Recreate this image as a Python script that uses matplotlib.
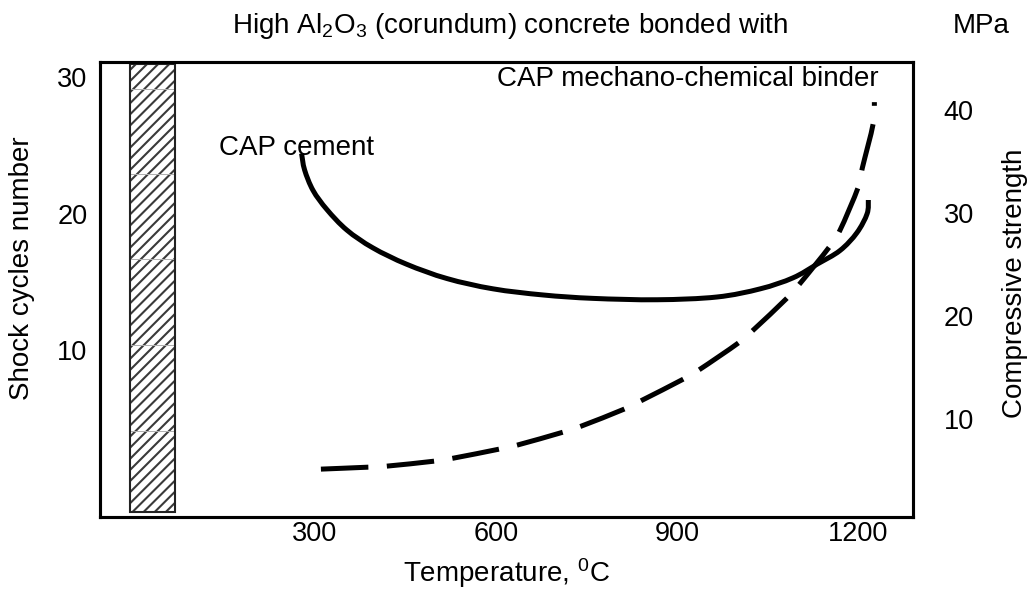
import matplotlib
matplotlib.use("Agg")
import matplotlib.pyplot as plt
from matplotlib.path import Path
from matplotlib.patches import PathPatch

plt.rcParams['font.family'] = ['Liberation Sans', 'DejaVu Sans']
plt.rcParams['mathtext.fontset'] = 'custom'
plt.rcParams['mathtext.rm'] = 'Liberation Sans'
plt.rcParams['mathtext.it'] = 'Liberation Sans'
plt.rcParams['hatch.linewidth'] = 1.5

# ---- data ----
x_ticks = [300, 600, 900, 1200]
left_ticks = [10, 20, 30]
right_ticks = [10, 20, 30, 40]

cement_temp = [278, 283, 297, 320, 353, 396, 452, 519, 595, 678, 761, 867,
               966, 1038, 1092, 1132, 1170, 1198, 1215, 1217]
cement_cycles = [24.4, 23.2, 21.7, 20.3, 18.8, 17.5, 16.3, 15.25, 14.5, 14.05,
                 13.8, 13.7, 13.9, 14.5, 15.3, 16.3, 17.3, 18.6, 20.0, 21.0]

binder_temp = [310, 388, 419, 497, 529, 605, 635, 711, 741, 812, 842, 910,
               938, 1001, 1026, 1082, 1104, 1152, 1170, 1200, 1207, 1225, 1227]
binder_mpa = [5.15, 5.34, 5.44, 5.92, 6.21, 7.09, 7.48, 8.74, 9.32, 10.97,
              11.84, 13.88, 14.85, 17.38, 18.64, 21.75, 23.2, 26.7, 28.35,
              32.5, 34.4, 38.7, 40.8]

hatch_temp = (-7, 68)
hatch_levels = [-1.87, 4.1, 10.4, 16.7, 22.9, 29.1, 30.95]


def smooth_path(xs, ys):
    """Smoothed (Catmull-Rom / Bezier) path through the given points,
    like a spreadsheet 'smoothed line'."""
    pts = list(zip(xs, ys))
    n = len(pts)
    verts = [pts[0]]
    codes = [Path.MOVETO]
    for i in range(n - 1):
        p0 = pts[i - 1] if i > 0 else pts[i]
        p1 = pts[i]
        p2 = pts[i + 1]
        p3 = pts[i + 2] if i + 2 < n else pts[i + 1]
        c1 = (p1[0] + (p2[0] - p0[0]) / 6, p1[1] + (p2[1] - p0[1]) / 6)
        c2 = (p2[0] - (p3[0] - p1[0]) / 6, p2[1] - (p3[1] - p1[1]) / 6)
        verts += [c1, c2, p2]
        codes += [Path.CURVE4, Path.CURVE4, Path.CURVE4]
    return Path(verts, codes)


# ---- figure ----
fig = plt.figure(figsize=(10.35, 5.91), dpi=100)
ax = fig.add_axes([100/1035, 1-517/591, 813/1035, 455/591])
ax2 = ax.twinx()

ax.set_xlim(-56, 1291)
ax.set_ylim(-2.2, 31.1)
ax2.set_ylim(0.5, 44.7)

# hatched bar
w = hatch_temp[1] - hatch_temp[0]
total = hatch_levels[-1] - hatch_levels[0]
ax.bar(hatch_temp[0], total, width=w, bottom=hatch_levels[0], align='edge',
       facecolor='white', edgecolor='#3a3a3a', linewidth=0,
       hatch='///', zorder=1)
for lo, hi in zip(hatch_levels[:-1], hatch_levels[1:]):
    ax.bar(hatch_temp[0], hi - lo, width=w, bottom=lo, align='edge',
           fill=False, edgecolor='#b0b0b0', linewidth=0.6, zorder=1.5)
ax.bar(hatch_temp[0], total, width=w, bottom=hatch_levels[0], align='edge',
       fill=False, edgecolor='#222222', linewidth=1.5, zorder=2)

ax.add_patch(PathPatch(smooth_path(cement_temp, cement_cycles), fill=False,
                       edgecolor='black', lw=3.6, capstyle='butt', zorder=3))
ax2.add_patch(PathPatch(smooth_path(binder_temp, binder_mpa), fill=False,
                        edgecolor='black', lw=3.6, capstyle='butt',
                        linestyle=(0, (9.5, 3.7)), zorder=3))

ax.set_xticks(x_ticks)
ax.set_xticklabels([str(t) for t in x_ticks])
ax.set_yticks(left_ticks)
ax.set_yticklabels([str(t) for t in left_ticks])
ax2.set_yticks(right_ticks)
ax2.set_yticklabels([str(t) for t in right_ticks])

ax.tick_params(axis='x', length=0, pad=3, labelsize=19.5)
ax.tick_params(axis='y', length=0, pad=9, labelsize=19.5)
ax2.tick_params(axis='y', length=0, pad=22, labelsize=19.5)

for a in (ax, ax2):
    for s in a.spines.values():
        s.set_linewidth(2.2)

ax.text((497-100)/813, (517-79)/455, 'CAP mechano-chemical binder',
        transform=ax.transAxes, ha='left', va='center', fontsize=20)
ax.text((219-100)/813, (517-148)/455, 'CAP cement',
        transform=ax.transAxes, ha='left', va='center', fontsize=20)

fig.text(510/1035, 1-26/591, 'High Al$_2$O$_3$ (corundum) concrete bonded with',
         ha='center', va='center', fontsize=20)
fig.text(981/1035, 1-26/591, 'MPa', ha='center', va='center', fontsize=20)
fig.text(506/1035, 1-573/591, 'Temperature, $^0$C', ha='center',
         va='center', fontsize=20)
fig.text(22/1035, 1-268/591, 'Shock cycles number', rotation=90,
         ha='center', va='center', fontsize=20)
fig.text(1015/1035, 1-283/591, 'Compressive strength', rotation=90,
         ha='center', va='center', fontsize=20)

fig.savefig('out.png', dpi=100)
